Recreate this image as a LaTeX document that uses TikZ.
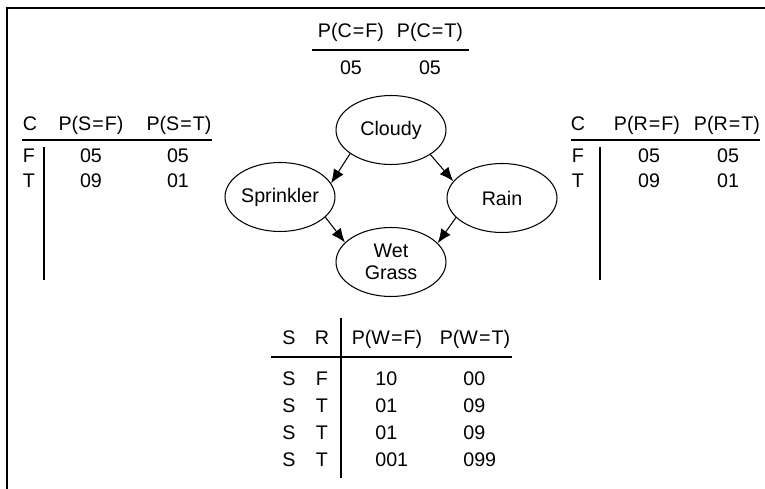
\documentclass[tikz,border=0pt]{standalone}
\usepackage{fontspec}
\setmainfont{Liberation Sans}
\usetikzlibrary{arrows.meta,shapes.geometric}
\newcommand{\eq}{\kern0.6pt=\kern0.6pt}
\begin{document}
\begin{tikzpicture}[x=0.02cm,y=-0.02cm,>={Latex[length=2.8mm,width=2.3mm]},
	every node/.style={font=\fontsize{11.2}{12.5}\selectfont,inner sep=0pt},
	var/.style={draw,ellipse,line width=0.6pt,minimum width=2.2cm,minimum height=1.38cm,align=center},
	cell/.style={anchor=base},
	rule/.style={line width=0.7pt}]
	\useasboundingbox(0,0)rectangle(765,489);
	\draw[line width=0.9pt](765,8)--(7,8)--(7,489);
	% network
	\node[var](cloudy)at(391,130){Cloudy};
	\node[var](sprinkler)at(280,197){Sprinkler};
	\node[var](rain)at(502,198){Rain};
	\node[var](wet)at(391,262){Wet\\Grass};
	\draw[->,line width=0.6pt](cloudy.210)--(sprinkler.15);
	\draw[->,line width=0.6pt](cloudy.328)--(rain.161);
	\draw[->,line width=0.6pt](sprinkler.336)--(wet.157);
	\draw[->,line width=0.6pt](rain.203)--(wet.22);
	% P(C)
	\node[cell]at(351,38){P(C\eq F)};
	\node[cell]at(430,38){P(C\eq T)};
	\draw[rule](312,50)--(469,50);
	\node[cell]at(351,75){05};
	\node[cell]at(430,75){05};
	% P(S|C)
	\node[cell]at(30,131){C};
	\node[cell]at(91,131){P(S\eq F)};
	\node[cell]at(179,131){P(S\eq T)};
	\draw[rule](22,140)--(212,140);
	\draw[rule](44,147)--(44,280);
	\foreach \c/\f/\t [count=\i] in {F/05/05,T/09/01}{
		\node[cell]at(29,138+25*\i){\c};
		\node[cell]at(91,138+25*\i){\f};
		\node[cell]at(178,138+25*\i){\t};
	}
	% P(R|C)
	\node[cell]at(578,131){C};
	\node[cell]at(647,131){P(R\eq F)};
	\node[cell]at(727,131){P(R\eq T)};
	\draw[rule](571,140)--(760,140);
	\draw[rule](600,147)--(600,280);
	\foreach \c/\f/\t [count=\i] in {F/05/05,T/09/01}{
		\node[cell]at(578,138+25*\i){\c};
		\node[cell]at(649,138+25*\i){\f};
		\node[cell]at(728,138+25*\i){\t};
	}
	% P(W|S,R)
	\node[cell]at(289,345){S};
	\node[cell]at(322,345){R};
	\node[cell]at(387,345){P(W\eq F)};
	\node[cell]at(475,345){P(W\eq T)};
	\draw[rule](271,357)--(512,357);
	\draw[rule](341,318)--(341,478);
	\foreach \s/\r/\f/\t [count=\i] in {S/F/10/00,S/T/01/09,S/T/01/09,S/T/001/099}{
		\node[cell]at(289,359+27*\i){\s};
		\node[cell]at(322,359+27*\i){\r};
		\node[cell,anchor=base west]at(375,359+27*\i){\f};
		\node[cell,anchor=base west]at(463,359+27*\i){\t};
	}
\end{tikzpicture}
\end{document}
